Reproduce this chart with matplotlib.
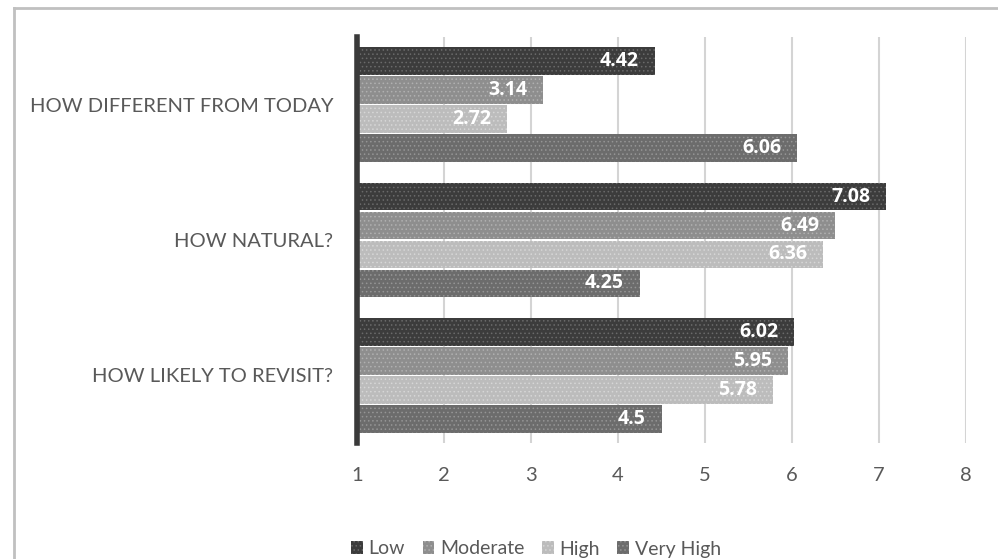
import matplotlib.pyplot as plt
import numpy as np
from matplotlib.patches import Patch
from matplotlib.lines import Line2D

plt.rcParams['font.family'] = ['Lato', 'DejaVu Sans']
plt.rcParams['hatch.linewidth'] = 0.6

# Survey ratings per question and group
questions = ["HOW DIFFERENT FROM TODAY", "HOW NATURAL?", "HOW LIKELY TO REVISIT?"]
groups = ["Low", "Moderate", "High", "Very High"]
low = [4.42, 7.08, 6.02]
moderate = [3.14, 6.49, 5.95]
high = [2.72, 6.36, 5.78]
very_high = [6.06, 4.25, 4.5]
series = [low, moderate, high, very_high]

fills = ["#3c3c3c", "#8e8e8e", "#bcbcbc", "#6c6c6c"]
dots = ["#6a6a6a", "#b0b0b0", "#d6d6d6", "#959595"]
text_grey = "#595959"

fig = plt.figure(figsize=(9.98, 5.59), dpi=100)
ax = fig.add_axes([357 / 998, 116 / 559, 609 / 998, 406 / 559])

y = np.arange(len(questions))
bar_h = 0.214
for i, (vals, fc, hc) in enumerate(zip(series, fills, dots)):
    offs = y - 1.5 * bar_h + i * bar_h
    vals = np.array(vals)
    bars = ax.barh(offs, vals - 1, left=1, height=bar_h * 0.95, color=fc,
                   edgecolor=hc, hatch='....', linewidth=0, zorder=3)
    for b, v in zip(bars, vals):
        ax.text(v - 0.18, b.get_y() + b.get_height() / 2, f"{v:g}",
                ha='right', va='center', color='white', fontsize=14,
                family=['Open Sans', 'DejaVu Sans'], fontweight='bold', zorder=4)

ax.set_xlim(1, 8)
ax.set_ylim(2.5, -0.5)
ax.set_xticks(range(1, 9))
ax.set_yticks(y)
ax.set_yticklabels(questions)
ax.tick_params(axis='both', length=0, labelsize=14.5, colors=text_grey)
ax.tick_params(axis='x', pad=17)
ax.tick_params(axis='y', pad=17)
ax.xaxis.grid(True, color="#d4d4d4", linewidth=1.5, zorder=0)
for s in ['top', 'right', 'bottom']:
    ax.spines[s].set_visible(False)
ax.spines['left'].set_linewidth(4)
ax.spines['left'].set_color("#3a3a3a")
ax.spines['left'].set_zorder(5)

# light frame around the chart area
fig.add_artist(Line2D([14 / 998, 14 / 998], [0, 1 - 8 / 559], color="#c0c0c0", linewidth=2))
fig.add_artist(Line2D([14 / 998, 1], [1 - 8 / 559, 1 - 8 / 559], color="#c0c0c0", linewidth=2))

handles = [Patch(facecolor=fc, edgecolor=hc, hatch='....', linewidth=0)
           for fc, hc in zip(fills, dots)]
fig.legend(handles, groups, loc='center', bbox_to_anchor=(536 / 998, 1 - 549 / 559),
           ncol=4, frameon=False, fontsize=14, labelcolor=text_grey,
           handlelength=0.6, handleheight=0.6, handletextpad=0.3, columnspacing=0.9)

fig.savefig("out.png", dpi=100)
